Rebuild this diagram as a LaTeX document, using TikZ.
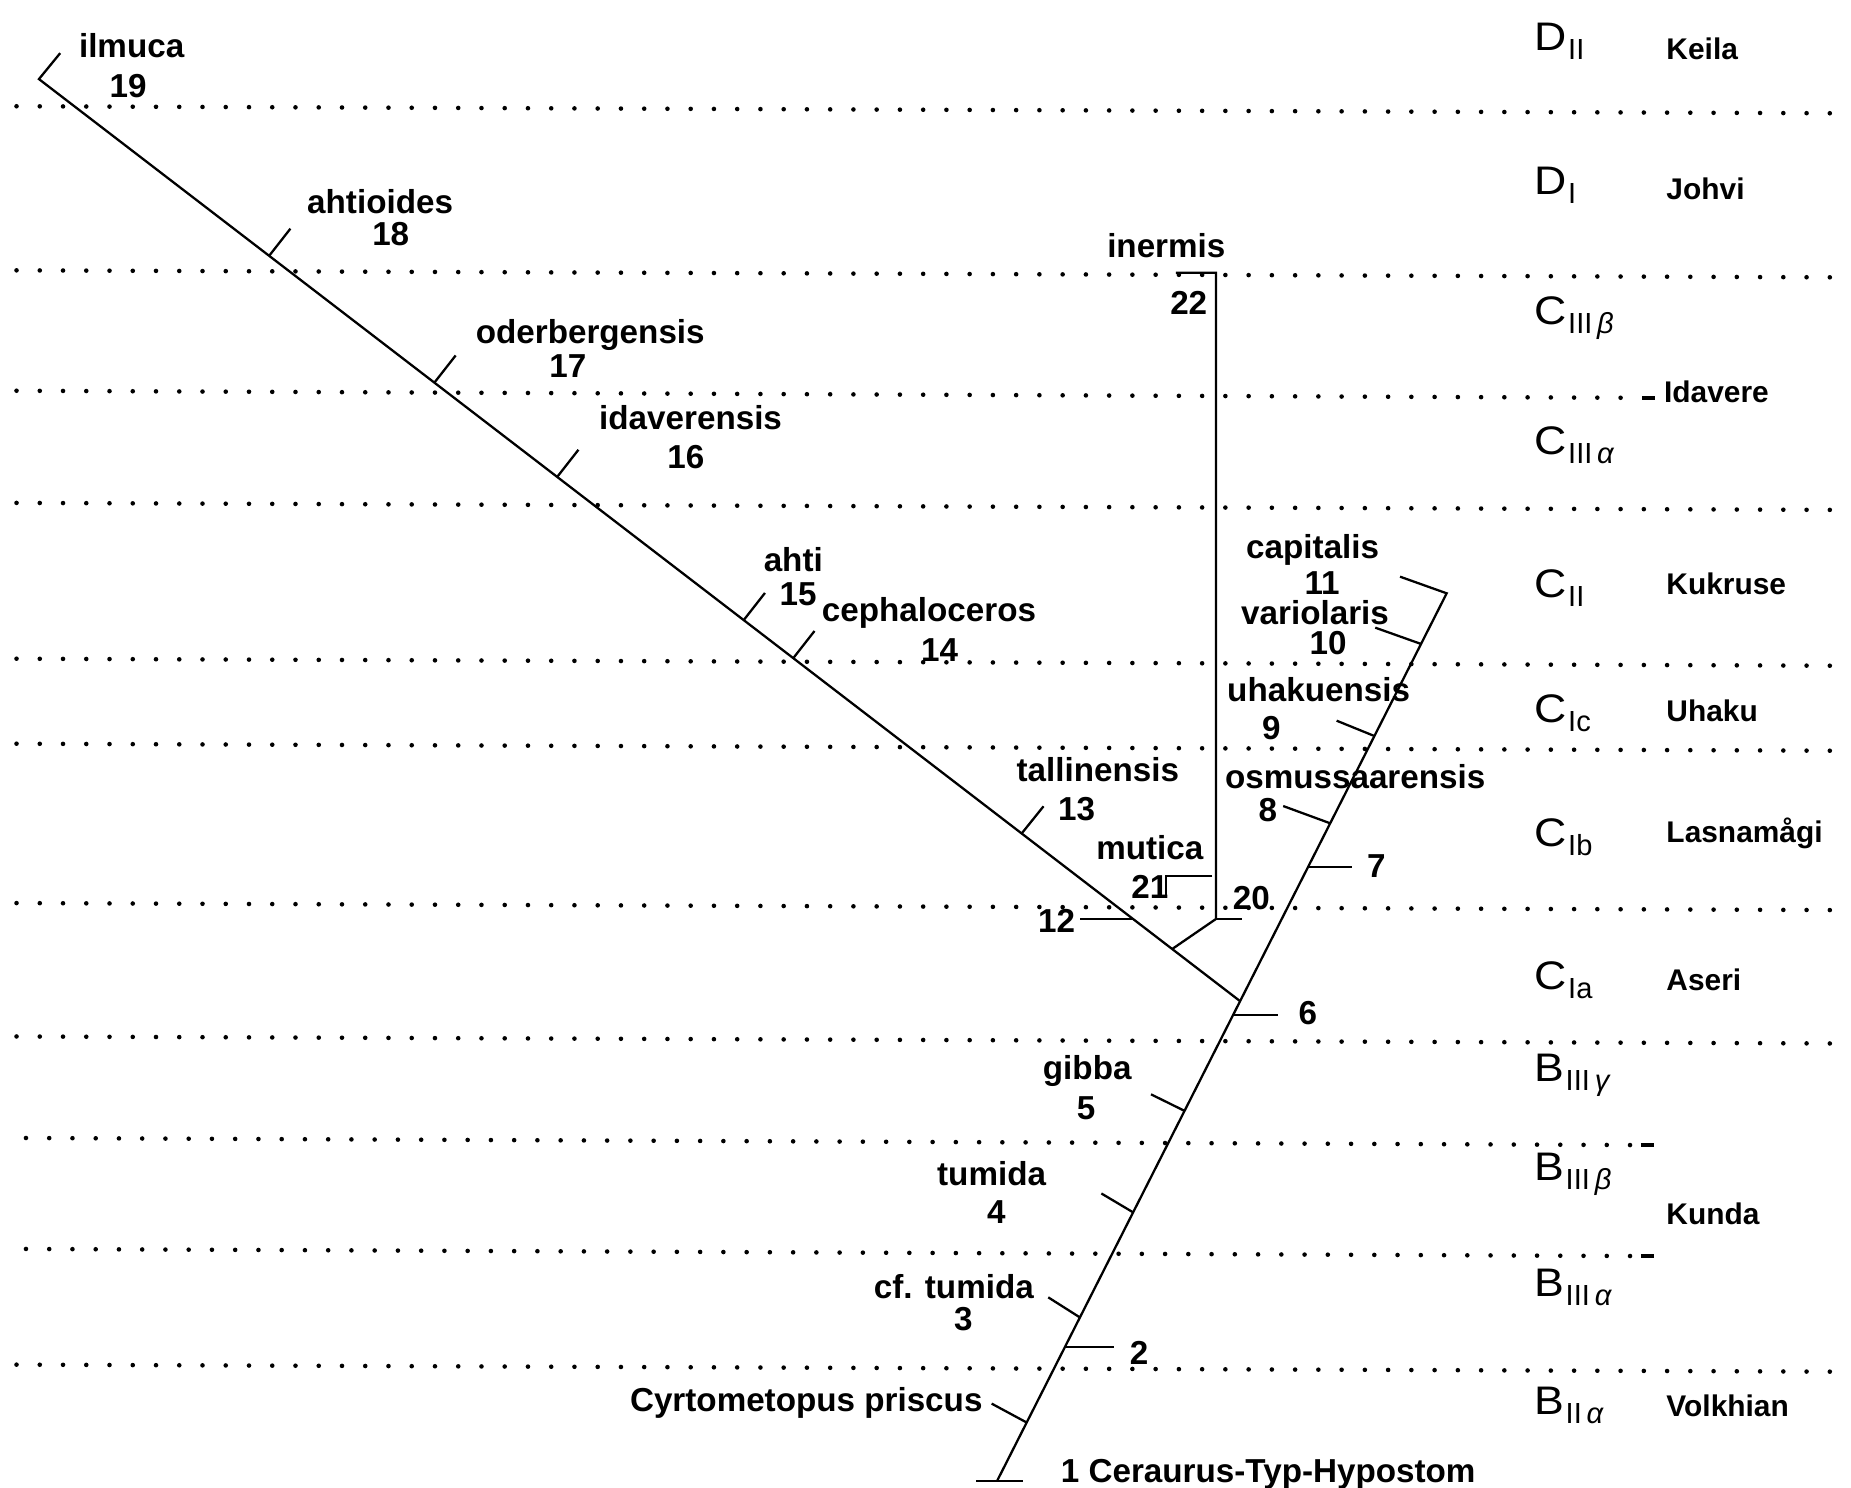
\documentclass[tikz,border=0pt]{standalone}
\usepackage{fontspec}
\setmainfont{Liberation Sans}
\newcommand{\stsym}[2]{\scalebox{1.12}[1]{\fontsize{9.6}{11}\selectfont #1}\kern0.4pt\raisebox{-2.2pt}{\fontsize{7}{8}\selectfont #2}}
\begin{document}
\begin{tikzpicture}[x=0.01cm,y=-0.01cm,
  tree/.style={line width=0.55pt},
  dotline/.style={line width=1.1pt,line cap=round,dash pattern=on 0pt off 5.6pt},
  endash/.style={line width=0.9pt},
  taxon/.style={font=\bfseries\fontsize{8}{9}\selectfont,inner sep=0pt},
  stagename/.style={font=\bfseries\fontsize{7.2}{8.5}\selectfont,inner sep=0pt,anchor=base west},
  stagesym/.style={inner sep=0pt,anchor=base west}]
\useasboundingbox (0,0) rectangle (1568,1260);

% dotted stage boundaries
\draw[dotline] (14,90) -- (1568,96);
\draw[dotline] (14,229) -- (1568,235);
\draw[dotline] (14,331) -- (1384,337);
\draw[endash] (1391,337) -- (1402,337);
\draw[dotline] (14,426) -- (1568,432);
\draw[dotline] (14,558) -- (1568,564);
\draw[dotline] (14,630) -- (1568,636);
\draw[dotline] (14,765) -- (1568,771);
\draw[dotline] (14,878) -- (1568,884);
\draw[dotline] (22,964) -- (1384,970);
\draw[endash] (1390,970) -- (1401,970);
\draw[dotline] (22,1058) -- (1384,1064);
\draw[endash] (1390,1064) -- (1401,1064);
\draw[dotline] (14,1156) -- (1568,1162);

% key points
\coordinate (L0) at (33,67);
\coordinate (e19) at (51,45);
\coordinate (J6) at (1050,847.7);
\coordinate (Ttop) at (1225.5,502.6);
\coordinate (Troot) at (844.6,1254.6);
\coordinate (e11) at (1186,488.5);

% left lineage ticks
\coordinate (a18) at (228,216.7); \coordinate (e18) at (246,193.7);
\coordinate (a17) at (368,324.1); \coordinate (e17) at (386,301.1);
\coordinate (a16) at (472,404.0); \coordinate (e16) at (490,381.0);
\coordinate (a15) at (630,525.3); \coordinate (e15) at (648,502.3);
\coordinate (a14) at (672,557.5); \coordinate (e14) at (690,534.5);
\coordinate (a13) at (865.5,706); \coordinate (e13) at (884,683);
\coordinate (a12) at (959.9,778.5); \coordinate (e12) at (915,778.5);
\coordinate (a20) at (993,803.9); \coordinate (b20) at (1030,778.5);
\coordinate (e20) at (1052,778.5);
\coordinate (top22) at (1030,231); \coordinate (e22) at (996,231);
\coordinate (a21) at (1027,742); \coordinate (c21) at (988,742); \coordinate (e21) at (988,761);

% trunk ticks
\coordinate (a10) at (1203.8,545.5); \coordinate (e10) at (1165,531.7);
\coordinate (a9) at (1164.3,623.5); \coordinate (e9) at (1132.3,610.5);
\coordinate (a8) at (1126.8,697.4); \coordinate (e8) at (1087,682.8);
\coordinate (a7) at (1108,734.7); \coordinate (e7) at (1145,734.7);
\coordinate (a6) at (1044.5,860); \coordinate (e6) at (1083,860);
\coordinate (a5) at (1003.4,941); \coordinate (e5) at (975,927);
\coordinate (a4) at (959.9,1027); \coordinate (e4) at (933,1011);
\coordinate (a3) at (914.8,1116); \coordinate (e3) at (888,1099);
\coordinate (a2) at (902.1,1141); \coordinate (e2) at (944,1141);
\coordinate (ap) at (869.7,1205); \coordinate (ep) at (840,1189);
\coordinate (b1l) at (827,1254.6); \coordinate (b1r) at (867,1254.6);

% lines
\draw[tree] (e19) -- (L0) -- (J6);
\draw[tree] (Troot) -- (Ttop) -- (e11);
\foreach \n in {18,17,16,15,14,13,12} \draw[tree] (a\n) -- (e\n);
\draw[tree] (a20) -- (b20) -- (top22) -- (e22);
\draw[tree] (b20) -- (e20);
\draw[tree] (a21) -- (c21) -- (e21);
\foreach \n in {10,9,8,7,6,5,4,3,2,p} \draw[tree] (a\n) -- (e\n);
\draw[tree] (b1l) -- (b1r);

% taxon labels
\node[taxon] (t19) at (111.5,39) {ilmuca};
\node[taxon] (n19) at (108.5,73) {19};
\node[taxon] (t18) at (322,171) {ahtioides};
\node[taxon] (n18) at (331,198) {18};
\node[taxon] (t17) at (500,284) {oderbergensis};
\node[taxon] (n17) at (481,310) {17};
\node[taxon] (t16) at (585,354) {idaverensis};
\node[taxon] (n16) at (581,387) {16};
\node[taxon] (t15) at (672,474) {ahti};
\node[taxon] (n15) at (676,503) {15};
\node[taxon] (t14) at (787,519) {cephaloceros};
\node[taxon] (n14) at (796,551) {14};
\node[taxon] (t13) at (930,652) {tallinensis};
\node[taxon] (n13) at (912,685) {13};
\node[taxon] (t21) at (974,718) {mutica};
\node[taxon] (n21) at (974,751) {21};
\node[taxon] (n12) at (895,780) {12};
\node[taxon] (n20) at (1060,761) {20};
\node[taxon] (t22) at (988,208) {inermis};
\node[taxon] (n22) at (1007,257) {22};
\node[taxon] (t11) at (1112,466) {capitalis};
\node[taxon] (n11) at (1120,494) {11};
\node[taxon] (t10) at (1114,519) {variolaris};
\node[taxon] (n10) at (1125,545) {10};
\node[taxon] (t9) at (1117,584) {uhakuensis};
\node[taxon] (n9) at (1077,617) {9};
\node[taxon] (t8) at (1148,658) {osmussaarensis};
\node[taxon] (n8) at (1074,686) {8};
\node[taxon] (n7) at (1166,734) {7};
\node[taxon] (n6) at (1108,858) {6};
\node[taxon] (t5) at (921,907) {gibba};
\node[taxon] (n5) at (920,939) {5};
\node[taxon] (t4) at (840,994) {tumida};
\node[taxon] (n4) at (844,1027) {4};
\node[taxon] (t3) at (808,1090) {cf. tumida};
\node[taxon] (n3) at (816,1117) {3};
\node[taxon] (n2) at (965,1146) {2};
\node[taxon,anchor=east] (tp) at (833,1188) {Cyrtometopus priscus};
\node[taxon,anchor=west] (t1) at (898,1249) {1 Ceraurus-Typ-Hypostom};

% stage symbols
\node[stagesym] (sDII) at (1299,43) {\stsym{D}{II}};
\node[stagesym] (sDI) at (1299,165) {\stsym{D}{I}};
\node[stagesym] (sCIIIb) at (1299,275) {\stsym{C}{III\,\textit{β}}};
\node[stagesym] (sCIIIa) at (1299,385) {\stsym{C}{III\,\textit{α}}};
\node[stagesym] (sCII) at (1299,506) {\stsym{C}{II}};
\node[stagesym] (sCIc) at (1299,612) {\stsym{C}{Ic}};
\node[stagesym] (sCIb) at (1299,717) {\stsym{C}{Ib}};
\node[stagesym] (sCIa) at (1299,838) {\stsym{C}{Ia}};
\node[stagesym] (sBIIIg) at (1299,916) {\stsym{B}{III\,\textit{γ}}};
\node[stagesym] (sBIIIb) at (1299,1000) {\stsym{B}{III\,\textit{β}}};
\node[stagesym] (sBIIIa) at (1299,1098) {\stsym{B}{III\,\textit{α}}};
\node[stagesym] (sBIIa) at (1299,1198) {\stsym{B}{II\,\textit{α}}};

% stage names
\node[stagename] (kei) at (1411,50) {Keila};
\node[stagename] (joh) at (1411,169) {Johvi};
\node[stagename] (ida) at (1409,341) {Idavere};
\node[stagename] (kuk) at (1411,504) {Kukruse};
\node[stagename] (uha) at (1411,611) {Uhaku};
\node[stagename] (las) at (1411,714) {Lasnamågi};
\node[stagename] (ase) at (1411,839) {Aseri};
\node[stagename] (kun) at (1411,1037) {Kunda};
\node[stagename] (vol) at (1411,1200) {Volkhian};
\end{tikzpicture}
\end{document}
